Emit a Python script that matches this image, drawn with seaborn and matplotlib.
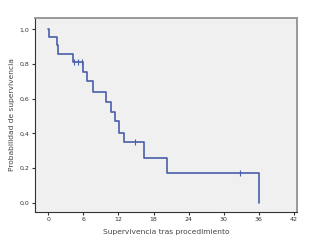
import numpy as np
import pandas as pd
import matplotlib
matplotlib.use("Agg")
import matplotlib.pyplot as plt
import seaborn as sns

# Kaplan-Meier curve
tiempo = [0, 0.15, 1.5, 1.65, 4.2, 5.9, 6.6, 7.6, 9.95, 10.8, 11.35, 12.1, 13.0, 16.3, 20.3, 35.95]
superv = [1.0, 0.955, 0.91, 0.86, 0.81, 0.755, 0.70, 0.64, 0.58, 0.525, 0.47, 0.405, 0.35, 0.26, 0.175, 0.0]

# censored cases
cens_t = [4.5, 5.1, 5.7, 14.9, 32.8]
cens_s = [0.81, 0.81, 0.81, 0.35, 0.175]

xticks = [0, 6, 12, 18, 24, 30, 36, 42]
yticks = [0.0, 0.2, 0.4, 0.6, 0.8, 1.0]
ylabels = ["0,0", "0,2", "0,4", "0,6", "0,8", "1,0"]

df = pd.DataFrame({"t": tiempo, "s": superv})
cens = pd.DataFrame({"t": cens_t, "s": cens_s})

sns.set_style("white")
plt.rcParams["font.family"] = ["DejaVu Sans"]

azul = "#4a5ea8"

fig = plt.figure(figsize=(3.27, 2.49), dpi=100)
ax = fig.add_axes([0.107, 0.149, 0.801, 0.779])
ax.set_facecolor("#f0f0f0")

sns.lineplot(data=df, x="t", y="s", drawstyle="steps-post", estimator=None,
             sort=False, color=azul, linewidth=1.2, ax=ax)
sns.scatterplot(data=cens, x="t", y="s", marker="|", s=18, color=azul,
                linewidth=0.8, ax=ax)

ax.set_xlim(-2.25, 42.5)
ax.set_ylim(-0.052, 1.066)
ax.set_xticks(xticks)
ax.set_xticklabels([str(v) for v in xticks])
ax.set_yticks(yticks)
ax.set_yticklabels(ylabels)
ax.tick_params(axis="both", direction="out", length=2, width=0.8, pad=2,
               labelsize=4.5, colors="#333333", bottom=True, left=True)

ax.set_xlabel("Supervivencia tras procedimiento", fontsize=5.4, color="#444444", labelpad=5)
ax.set_ylabel("Probabilidad de supervivencia", fontsize=5.4, color="#444444", labelpad=3)

for s in ["left", "bottom"]:
    ax.spines[s].set_color("#333333")
    ax.spines[s].set_linewidth(0.8)
for s in ["top", "right"]:
    ax.spines[s].set_color("#999999")
    ax.spines[s].set_linewidth(1.4)

fig.savefig("out.png", dpi=100)
